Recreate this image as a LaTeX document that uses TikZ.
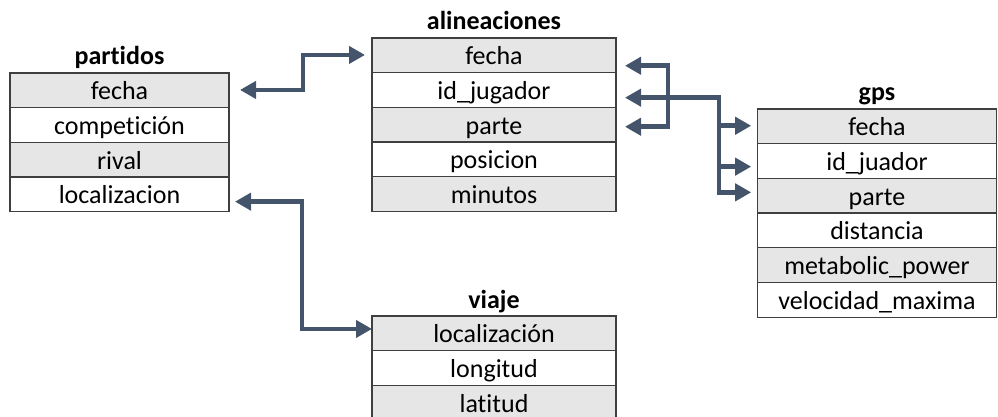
\documentclass[tikz,border=0pt]{standalone}
\usepackage{fontspec}
\setmainfont[Ligatures=NoCommon]{Carlito}
\usetikzlibrary{arrows.meta}
\definecolor{linkblue}{HTML}{44546A}
\definecolor{rowgray}{HTML}{E7E6E6}
\definecolor{rulegray}{HTML}{3F3F3F}
\tikzset{
  cell/.style={draw=rulegray, line width=0.6pt, minimum height=17.35pt,
    inner sep=0pt, outer sep=0pt, text height=11pt, text depth=1.5pt,
    anchor=north, font=\fontsize{13pt}{15pt}\selectfont},
  shaded/.style={cell, fill=rowgray},
  plain/.style={cell, fill=white},
  tabletitle/.style={anchor=base, inner sep=0pt,
    font=\fontsize{13pt}{15pt}\selectfont\bfseries},
  link/.style={draw=linkblue, line width=2.25pt},
  head/.tip={Triangle[length=8pt,width=8.5pt]}
}
\begin{document}
\begin{tikzpicture}[x=0.5pt,y=-0.5pt]
\useasboundingbox (0,0) rectangle (998,417);
\clip (0,0) rectangle (998,417);

% table: partidos
\begin{scope}[every node/.append style={minimum width=109.5pt}]
\node[shaded] (p1) at (119.5,73) {fecha};
\node[plain]  (p2) at (p1.south) {competición};
\node[shaded] (p3) at (p2.south) {rival};
\node[plain]  (p4) at (p3.south) {localizacion};
\end{scope}
\node[tabletitle] (tp) at ([yshift=4pt]p1.north) {partidos};

% table: alineaciones
\begin{scope}[every node/.append style={minimum width=122pt}]
\node[shaded] (a1) at (494,38) {fecha};
\node[plain]  (a2) at (a1.south) {id\_jugador};
\node[shaded] (a3) at (a2.south) {parte};
\node[plain]  (a4) at (a3.south) {posicion};
\node[shaded] (a5) at (a4.south) {minutos};
\end{scope}
\node[tabletitle] (ta) at ([yshift=4pt]a1.north) {alineaciones};

% table: gps
\begin{scope}[every node/.append style={minimum width=119.5pt}]
\node[shaded] (g1) at (877,109) {fecha};
\node[plain]  (g2) at (g1.south) {id\_juador};
\node[shaded] (g3) at (g2.south) {parte};
\node[plain]  (g4) at (g3.south) {distancia};
\node[shaded] (g5) at (g4.south) {metabolic\_power};
\node[plain]  (g6) at (g5.south) {velocidad\_maxima};
\end{scope}
\node[tabletitle] (tg) at ([yshift=4pt]g1.north) {gps};

% table: viaje
\begin{scope}[every node/.append style={minimum width=122pt}]
\node[shaded] (v1) at (494,316) {localización};
\node[plain]  (v2) at (v1.south) {longitud};
\node[shaded] (v3) at (v2.south) {latitud};
\end{scope}
\node[tabletitle] (tv) at ([yshift=4pt]v1.north) {viaje};

% partidos.fecha <-> alineaciones.fecha
\draw[link, head-head] ([xshift=5.5pt,yshift=0.2pt]p1.east) -- ++(63,0)
  |- ([xshift=-3.5pt,yshift=0.2pt]a1.west);

% partidos.localizacion <-> viaje.localización
\draw[link, head-head] ([xshift=3pt,yshift=-3.6pt]p4.east) -- ++(67,0)
  |- ([yshift=2.2pt]v1.west);

% alineaciones key columns bracket
\draw[link, head-head] ([xshift=4.5pt,yshift=-5.2pt]a1.east) -- ++(43,0)
  |- ([xshift=4.5pt,yshift=-1pt]a3.east);

% alineaciones.id_jugador -> gps key columns
\draw[link, head-head] ([xshift=4.5pt,yshift=-3.8pt]a2.east) -- ++(94,0)
  |- ([xshift=-3.15pt,yshift=1.7pt]g3.west);
\draw[link, head-] ([xshift=-3.15pt,yshift=0.3pt]g1.west) -- ++(-32.7,0);
\draw[link, head-] ([xshift=-3.15pt,yshift=-2.8pt]g2.west) -- ++(-32.7,0);
\end{tikzpicture}
\end{document}
